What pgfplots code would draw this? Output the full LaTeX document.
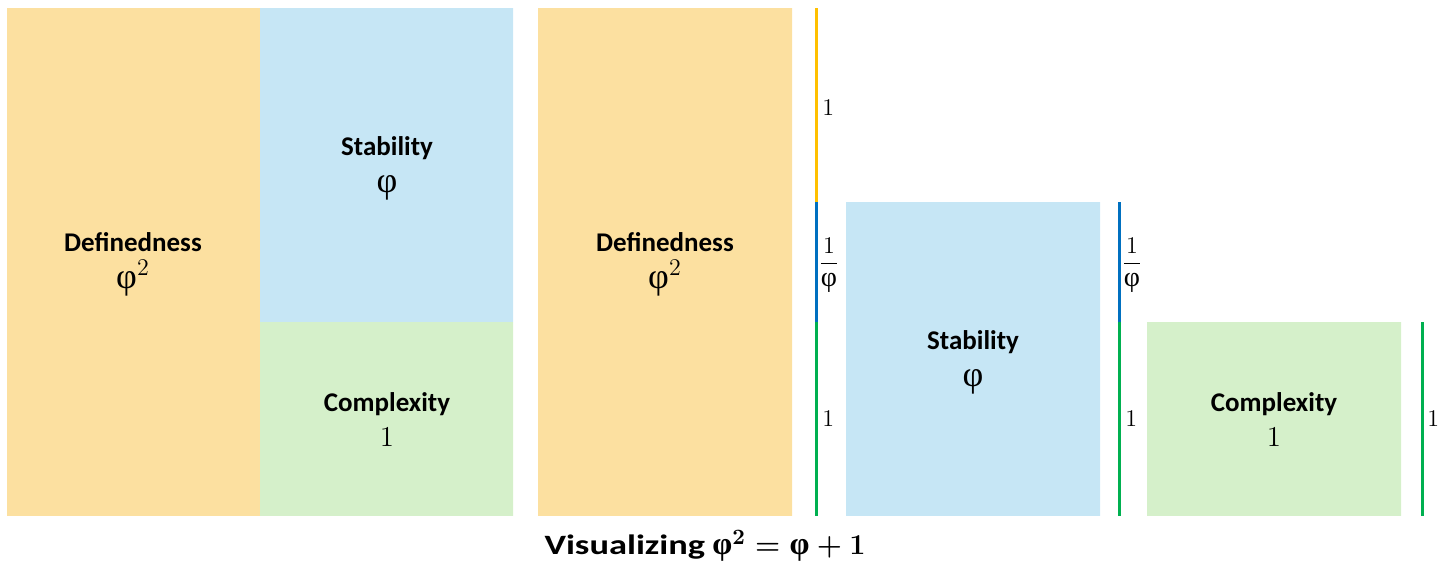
\documentclass[border=0pt]{standalone}
\usepackage{pgfplots}
\pgfplotsset{compat=1.18}
\usepackage{fontspec}
\setmainfont{Carlito}
\newfontfamily\grk{Liberation Serif}
\newcommand{\ph}{\mbox{\grk φ}}
\newcommand{\phf}{\mbox{\fontsize{14}{16}\selectfont\grk φ}}
\newcommand{\phb}{\mbox{\fontsize{16}{18}\selectfont\grk\bfseries φ}}
\definecolor{defc}{HTML}{FCE0A0}
\definecolor{stabc}{HTML}{C6E6F5}
\definecolor{compc}{HTML}{D5F0CA}
\definecolor{lyel}{HTML}{FFC000}
\definecolor{lblu}{HTML}{0070C0}
\definecolor{lgrn}{HTML}{00B050}
\tikzset{
  nm/.style={anchor=base, inner sep=0pt, font=\fontsize{13.5}{15}\selectfont\bfseries},
  vl/.style={inner sep=0pt, font=\fontsize{14}{16}\selectfont},
  vp/.style={inner sep=0pt, font=\fontsize{18}{20}\selectfont},
  sl/.style={anchor=base west, inner sep=0pt, font=\fontsize{11.5}{13}\selectfont},
  sf/.style={anchor=west, inner sep=0pt, font=\fontsize{11.5}{13}\selectfont}}
\begin{document}
\begin{tikzpicture}
\begin{axis}[hide axis, scale only axis, width=722.5pt, height=283.5pt,
  xmin=0, xmax=1445, ymin=-0.2629, ymax=2.660, clip=false]
\path (rel axis cs:0,0) rectangle (rel axis cs:1,1);
\addplot[fill=defc, draw=none] coordinates {(7,0) (260,0) (260,2.618) (7,2.618) (7,0)};
\addplot[fill=stabc, draw=none] coordinates {(260,1) (513,1) (513,2.618) (260,2.618) (260,1)};
\addplot[fill=compc, draw=none] coordinates {(260,0) (513,0) (513,1) (260,1) (260,0)};
\addplot[fill=defc, draw=none] coordinates {(538,0) (792,0) (792,2.618) (538,2.618) (538,0)};
\addplot[fill=stabc, draw=none] coordinates {(846,0) (1100,0) (1100,1.618) (846,1.618) (846,0)};
\addplot[fill=compc, draw=none] coordinates {(1147,0) (1401,0) (1401,1) (1147,1) (1147,0)};
\addplot[lyel, line width=1.5pt] coordinates {(816,1.618) (816,2.618)};
\addplot[lblu, line width=1.5pt] coordinates {(816,1) (816,1.618)};
\addplot[lgrn, line width=1.5pt] coordinates {(816,0) (816,1)};
\addplot[lblu, line width=1.5pt] coordinates {(1119,1) (1119,1.618)};
\addplot[lgrn, line width=1.5pt] coordinates {(1119,0) (1119,1)};
\addplot[lgrn, line width=1.5pt] coordinates {(1422,0) (1422,1)};
% names
\node[nm] at (axis cs:133,1.366) {Definedness};
\node[nm] at (axis cs:387,1.860) {Stability};
\node[nm] at (axis cs:387,0.541) {Complexity};
\node[nm] at (axis cs:665,1.366) {Definedness};
\node[nm] at (axis cs:973,0.860) {Stability};
\node[nm] at (axis cs:1274,0.541) {Complexity};
% values
\node[vp] at (axis cs:133,1.227) {$\ph^2$};
\node[vp] at (axis cs:387,1.691) {$\ph$};
\node[vl] at (axis cs:387,0.407) {$1$};
\node[vp] at (axis cs:665,1.227) {$\ph^2$};
\node[vp] at (axis cs:973,0.691) {$\ph$};
\node[vl] at (axis cs:1274,0.407) {$1$};
% side labels
\node[sl] at (axis cs:822,2.067) {$1$};
\node[sf] at (axis cs:818,1.294) {$\displaystyle\frac{1}{\phf}$};
\node[sl] at (axis cs:822,0.459) {$1$};
\node[sf] at (axis cs:1121,1.294) {$\displaystyle\frac{1}{\phf}$};
\node[sl] at (axis cs:1125,0.459) {$1$};
\node[sl] at (axis cs:1427,0.459) {$1$};
% title
\node[anchor=base west, inner sep=0pt, xscale=1.3, transform shape, font=\fontsize{14}{16}\selectfont\bfseries] at (axis cs:544,-0.201) {Visualizing};
\node[anchor=base west, inner sep=0pt, font=\fontsize{15}{17}\selectfont\bfseries\boldmath] at (axis cs:712,-0.201) {$\phb^2=\phb+1$};
\end{axis}
\end{tikzpicture}
\end{document}
